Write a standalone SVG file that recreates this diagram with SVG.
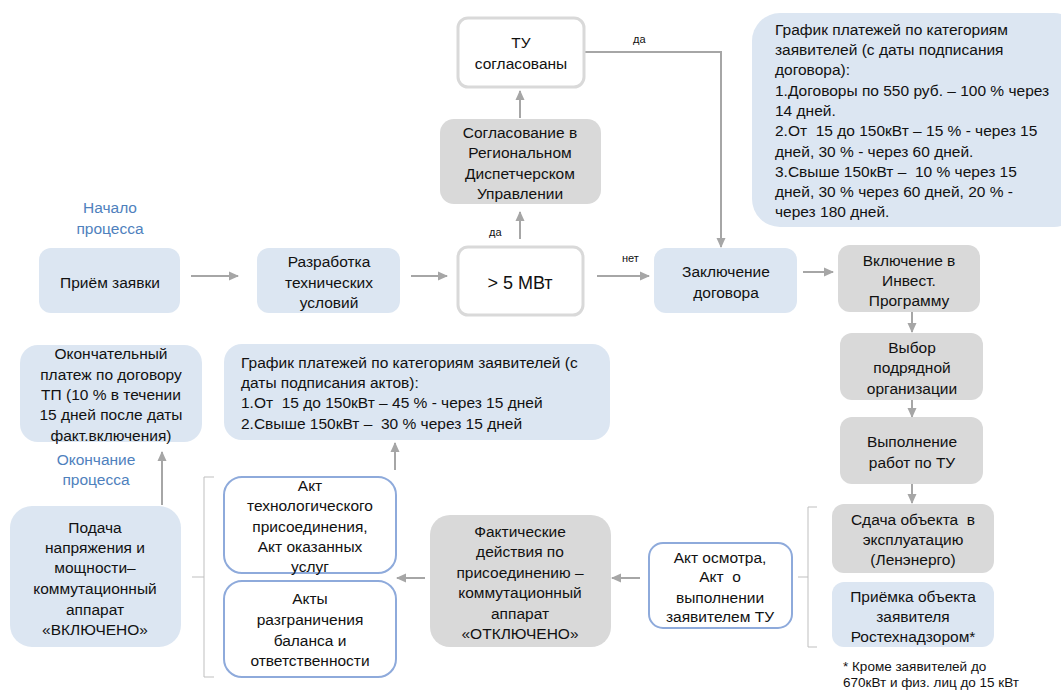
<svg xmlns="http://www.w3.org/2000/svg" width="1061" height="690" viewBox="0 0 1061 690" xml:space="preserve">
<defs>
<marker id="ah" markerUnits="userSpaceOnUse" markerWidth="10" markerHeight="10" viewBox="0 0 10 10" refX="9" refY="5" orient="auto">
<path d="M0,0.5 L10,5 L0,9.5 Z" fill="#a6a6a6"/>
</marker>
</defs>
<style>
text{font-family:"Liberation Sans",Arial,sans-serif;font-size:15.5px;fill:#111111;white-space:pre}
.c{text-anchor:middle}
.blue{fill:#dce6f2}
.gray{fill:#d9d9d9}
.wg{fill:#ffffff;stroke:#d9d9d9;stroke-width:3}
.wb{fill:#ffffff;stroke:#8eaadb;stroke-width:2}
.lbl{font-size:11px}
.st{fill:#4f81bd}
.fn{font-size:13.5px}
.con{fill:none;stroke:#a6a6a6;stroke-width:2}
.br{fill:none;stroke:#bfbfbf;stroke-width:1}
</style>
<rect width="1061" height="690" fill="#ffffff"/>
<g id="connectors">
<line class="con" x1="191" y1="276" x2="238" y2="276" marker-end="url(#ah)"/>
<line class="con" x1="411" y1="276" x2="447" y2="276" marker-end="url(#ah)"/>
<line class="con" x1="597" y1="276" x2="649" y2="276" marker-end="url(#ah)"/>
<line class="con" x1="520" y1="239" x2="520" y2="212" marker-end="url(#ah)"/>
<line class="con" x1="520" y1="118" x2="520" y2="91" marker-end="url(#ah)"/>
<path class="con" d="M584,52 H721 V247" marker-end="url(#ah)"/>
<line class="con" x1="803" y1="272" x2="833" y2="272" marker-end="url(#ah)"/>
<line class="con" x1="912" y1="312" x2="912" y2="332" marker-end="url(#ah)"/>
<line class="con" x1="912" y1="398" x2="912" y2="417" marker-end="url(#ah)"/>
<line class="con" x1="912" y1="484" x2="912" y2="503" marker-end="url(#ah)"/>
<line class="con" x1="640" y1="578" x2="612" y2="578" marker-end="url(#ah)"/>
<line class="con" x1="425" y1="578" x2="397" y2="578" marker-end="url(#ah)"/>
<line class="con" x1="395" y1="470" x2="395" y2="443" marker-end="url(#ah)"/>
<line class="con" x1="162" y1="505" x2="162" y2="452" marker-end="url(#ah)"/>
<path class="br" d="M817,507 H808 V647 H817 M808,577 H798"/>
<path class="br" d="M214,477 H204 V677 H214 M204,577 H192"/>
<text class="lbl" x="622" y="262">нет</text>
<text class="lbl" x="489" y="236">да</text>
<text class="lbl" x="633" y="43">да</text>
</g>
<g id="start-label">
<text class="c st" x="110" y="213">Начало</text>
<text class="c st" x="110" y="234">процесса</text>
</g>
<g id="n-priem">
<rect class="blue" x="39" y="248" width="141" height="65" rx="12"/>
<text class="c" x="110" y="288">Приём заявки</text>
</g>
<g id="n-razrab">
<rect class="blue" x="257" y="248" width="143" height="65" rx="12"/>
<text class="c" x="329" y="267">Разработка</text>
<text class="c" x="329" y="288">технических</text>
<text class="c" x="329" y="308">условий</text>
</g>
<g id="n-5mw">
<rect class="wg" x="458" y="247" width="125" height="68" rx="10"/>
<text class="c" x="520" y="289" style="font-size:18px">&gt; 5 МВт</text>
</g>
<g id="n-rdu">
<rect class="gray" x="440" y="119" width="161" height="85" rx="14"/>
<text class="c" x="520" y="138">Согласование в</text>
<text class="c" x="520" y="158">Региональном</text>
<text class="c" x="520" y="179">Диспетчерском</text>
<text class="c" x="520" y="199">Управлении</text>
</g>
<g id="n-tu">
<rect class="wg" x="458" y="18" width="126" height="69" rx="10"/>
<text class="c" x="521" y="48">ТУ</text>
<text class="c" x="521" y="69">согласованы</text>
</g>
<g id="n-dogovor">
<rect class="blue" x="654" y="248" width="143" height="65" rx="12"/>
<text class="c" x="726" y="277">Заключение</text>
<text class="c" x="726" y="298">договора</text>
</g>
<g id="n-graph1">
<rect class="blue" x="752" y="13" width="330" height="214" rx="28"/>
<text x="775" y="35">График платежей по категориям</text>
<text x="775" y="55">заявителей (с даты подписания</text>
<text x="775" y="75">договора):</text>
<text x="775" y="96">1.Договоры по 550 руб. – 100 % через</text>
<text x="775" y="116">14 дней.</text>
<text x="775" y="136">2.От  15 до 150кВт – 15 % - через 15</text>
<text x="775" y="157">дней, 30 % - через 60 дней.</text>
<text x="775" y="177">3.Свыше 150кВт –  10 % через 15</text>
<text x="775" y="197">дней, 30 % через 60 дней, 20 % -</text>
<text x="775" y="217">через 180 дней.</text>
</g>
<g id="n-invest">
<rect class="gray" x="838" y="245" width="142" height="67" rx="12"/>
<text class="c" x="909" y="266">Включение в</text>
<text class="c" x="909" y="286">Инвест.</text>
<text class="c" x="909" y="306">Программу</text>
</g>
<g id="n-vybor">
<rect class="gray" x="840" y="333" width="143" height="67" rx="12"/>
<text class="c" x="912" y="353">Выбор</text>
<text class="c" x="912" y="373">подрядной</text>
<text class="c" x="912" y="394">организации</text>
</g>
<g id="n-vypoln">
<rect class="gray" x="840" y="417" width="143" height="67" rx="12"/>
<text class="c" x="912" y="447">Выполнение</text>
<text class="c" x="912" y="468">работ по ТУ</text>
</g>
<g id="n-sdacha">
<rect class="gray" x="832" y="504" width="162" height="69" rx="12"/>
<text class="c" x="913" y="525">Сдача объекта  в</text>
<text class="c" x="913" y="545">эксплуатацию</text>
<text class="c" x="913" y="565">(Ленэнерго)</text>
</g>
<g id="n-priemka">
<rect class="blue" x="832" y="582" width="162" height="65" rx="12"/>
<text class="c" x="913" y="602">Приёмка объекта</text>
<text class="c" x="913" y="622">заявителя</text>
<text class="c" x="913" y="642">Ростехнадзором*</text>
</g>
<g id="footnote">
<text class="fn" x="843" y="671">* Кроме заявителей до</text>
<text class="fn" x="843" y="687">670кВт и физ. лиц до 15 кВт</text>
</g>
<g id="n-akt-osm">
<rect class="wb" x="649" y="543" width="143" height="85" rx="14"/>
<text class="c" x="720" y="563">Акт осмотра,</text>
<text class="c" x="720" y="582">Акт  о</text>
<text class="c" x="720" y="603">выполнении</text>
<text class="c" x="720" y="622">заявителем ТУ</text>
</g>
<g id="n-fakt">
<rect class="gray" x="430" y="515" width="181" height="132" rx="20"/>
<text class="c" x="520" y="537">Фактические</text>
<text class="c" x="520" y="557">действия по</text>
<text class="c" x="520" y="578">присоединению –</text>
<text class="c" x="520" y="598">коммутационный</text>
<text class="c" x="520" y="619">аппарат</text>
<text class="c" x="520" y="639">«ОТКЛЮЧЕНО»</text>
</g>
<g id="n-akt-tp">
<rect class="wb" x="224" y="477" width="172" height="96" rx="18"/>
<text class="c" x="310" y="491">Акт</text>
<text class="c" x="310" y="511">технологического</text>
<text class="c" x="310" y="532">присоединения,</text>
<text class="c" x="310" y="552">Акт оказанных</text>
<text class="c" x="310" y="572">услуг</text>
</g>
<g id="n-akt-razgr">
<rect class="wb" x="224" y="581" width="172" height="96" rx="18"/>
<text class="c" x="310" y="604">Акты</text>
<text class="c" x="310" y="625">разграничения</text>
<text class="c" x="310" y="646">баланса и</text>
<text class="c" x="310" y="666">ответственности</text>
</g>
<g id="n-graph2">
<rect class="blue" x="224" y="344" width="386" height="96" rx="18"/>
<text x="241" y="368">График платежей по категориям заявителей (с</text>
<text x="241" y="388">даты подписания актов):</text>
<text x="241" y="408">1.От  15 до 150кВт – 45 % - через 15 дней</text>
<text x="241" y="429">2.Свыше 150кВт –  30 % через 15 дней</text>
</g>
<g id="n-podacha">
<rect class="blue" x="10" y="506" width="171" height="141" rx="22"/>
<text class="c" x="95" y="533">Подача</text>
<text class="c" x="95" y="553">напряжения и</text>
<text class="c" x="95" y="573">мощности–</text>
<text class="c" x="95" y="594">коммутационный</text>
<text class="c" x="95" y="615">аппарат</text>
<text class="c" x="95" y="635">«ВКЛЮЧЕНО»</text>
</g>
<g id="n-final">
<rect class="blue" x="20" y="345" width="182" height="97" rx="18"/>
<text class="c" x="111" y="359">Окончательный</text>
<text class="c" x="111" y="380">платеж по договору</text>
<text class="c" x="111" y="400">ТП (10 % в течении</text>
<text class="c" x="111" y="420">15 дней после даты</text>
<text class="c" x="111" y="441">факт.включения)</text>
</g>
<g id="end-label">
<text class="c st" x="96" y="465">Окончание</text>
<text class="c st" x="96" y="485">процесса</text>
</g>
</svg>
